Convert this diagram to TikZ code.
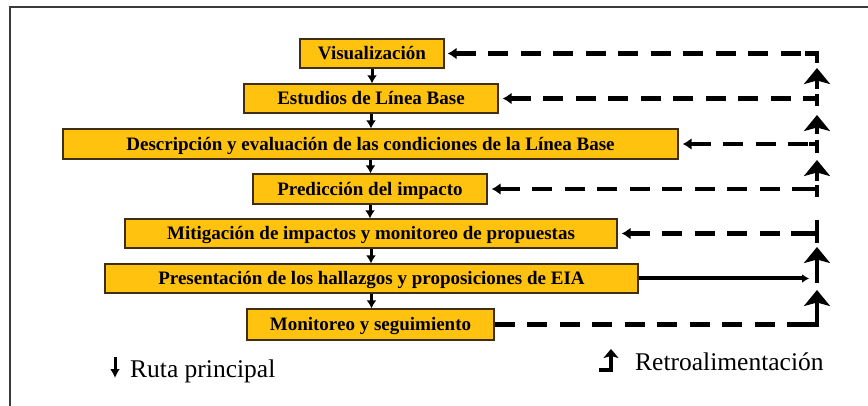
\documentclass[tikz,border=0pt]{standalone}
\usepackage{fontspec}
\setmainfont{Liberation Serif}
\usetikzlibrary{arrows.meta}
\definecolor{boxfill}{HTML}{FFC20E}
\definecolor{boxline}{HTML}{3F2E12}
\definecolor{framecol}{HTML}{3A3A3A}
\begin{document}
\begin{tikzpicture}[x=1pt,y=-1pt,
  stagebox/.style={draw=boxline, line width=1.3pt, fill=boxfill, inner sep=0pt,
    font=\fontsize{19}{21}\selectfont\bfseries, minimum height=29pt,
    text height=12.6pt, text depth=0pt},
  mainarrow/.style={line width=3pt, -{Latex[length=8pt,width=10pt]}},
  fbline/.style={line width=4.2pt, dash pattern=on 20pt off 12.5pt},
  fbtip/.style={{Latex[length=9pt,width=12pt]}-},
  fbsolid/.style={line width=4.2pt},
  uparrow/.style={line width=4.2pt, -{Stealth[length=16pt,width=26pt,inset=3.5pt]}},
  legendtext/.style={anchor=base west, inner sep=0pt, font=\fontsize{25.5}{28}\selectfont},
]
\useasboundingbox (0,0) rectangle (868,406);
% frame
\draw[framecol, line width=1.5pt] (10,412) -- (10,7) -- (872,7);

% stages
\node[stagebox, minimum width=144pt] (vis) at (372,53.5) {Visualización};
\node[stagebox, minimum width=254pt] (est) at (371,98.5) {Estudios de Línea Base};
\node[stagebox, minimum width=615pt, minimum height=30pt] (desc) at (370.5,144) {Descripción y evaluación de las condiciones de la Línea Base};
\node[stagebox, minimum width=234pt, minimum height=30pt] (pred) at (370,189) {Predicción del impacto};
\node[stagebox, minimum width=492pt] (mit) at (371,233.5) {Mitigación de impactos y monitoreo de propuestas};
\node[stagebox, minimum width=533pt] (pres) at (371.5,278.5) {Presentación de los hallazgos y proposiciones de EIA};
\node[stagebox, minimum width=247pt, minimum height=31pt] (mon) at (370.5,324.5) {Monitoreo y seguimiento};

% main route
\draw[mainarrow] (vis.south) -- (vis.south |- est.north);
\draw[mainarrow] (est.south) -- (est.south |- desc.north);
\draw[mainarrow] (desc.south) -- (desc.south |- pred.north);
\draw[mainarrow] (pred.south) -- (pred.south |- mit.north);
\draw[mainarrow] (mit.south) -- (mit.south |- pres.north);
\draw[mainarrow] (pres.south) -- (pres.south |- mon.north);

% feedback column
\coordinate (fbx) at (817,0);
\coordinate (presx) at (809,0);

% upper loop
\draw[fbline, fbtip] ([xshift=3pt]vis.east) -- (vis.east -| fbx);
\draw[fbsolid, line join=miter] ([xshift=-12pt]vis.east -| fbx) -- (vis.east -| fbx) -- ++(0,10);
\draw[uparrow] (817,89) -- (817,68);

\draw[fbline, fbtip] ([xshift=4pt]est.east) -- (est.east -| fbx);
\draw[fbsolid] (817,94) -- (817,106);
\draw[fbsolid] ([xshift=-8pt]est.east -| fbx) -- (est.east -| fbx);
\draw[uparrow] (817,134) -- (817,115);

\draw[fbline, fbtip] ([xshift=4pt]desc.east) -- (desc.east -| fbx);
\draw[fbsolid] (817,140) -- (817,153);
\draw[fbsolid] ([xshift=-8pt]desc.east -| fbx) -- (desc.east -| fbx);
\draw[uparrow] (817,181) -- (817,160);

\draw[fbline, fbtip] ([xshift=4pt]pred.east) -- (pred.east -| fbx);
\draw[fbsolid] (817,185) -- (817,197);
\draw[fbsolid] ([xshift=-8pt]pred.east -| fbx) -- (pred.east -| fbx);

% lower loop
\draw[fbline, fbtip] ([xshift=4pt]mit.east) -- (mit.east -| fbx);
\draw[fbsolid] (817,220) -- (817,243);
\draw[fbsolid] ([xshift=-26pt]mit.east -| fbx) -- (mit.east -| fbx);
\draw[uparrow] (817,283) -- (817,247);

\draw[line width=4pt, -{Latex[length=7pt,width=9pt]}] (pres.east) -- (pres.east -| presx);

\draw[fbline] (mon.east) -- (mon.east -| fbx);
\draw[fbsolid] ([xshift=-14pt]mon.east -| fbx) -- (mon.east -| fbx);
\draw[uparrow] (817,326.6) -- (817,290);

% legend
\coordinate (lgda) at (115,357);
\coordinate (lgdb) at (115,378);
\draw[line width=3pt, -{Latex[length=9pt,width=10pt]}] (lgda) -- (lgdb);
\node[legendtext] (ruta) at (130,377) {Ruta principal};

\coordinate (lgra) at (599,370);
\coordinate (lgrb) at (611,370);
\coordinate (lgrc) at (611,349);
\draw[line width=4.2pt, line join=miter, -{Stealth[length=9pt,width=15pt,inset=2pt]}] (lgra) -- (lgrb) -- (lgrc);
\node[legendtext] (retro) at (635,370) {Retroalimentación};
\end{tikzpicture}
\end{document}
